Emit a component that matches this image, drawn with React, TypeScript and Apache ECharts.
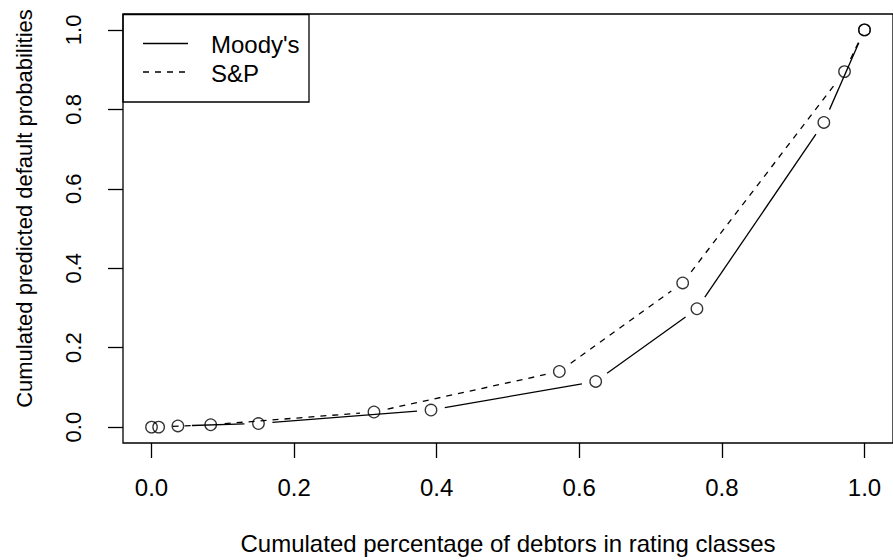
import React, { useEffect, useRef } from "react";
import * as echarts from "echarts";

// Tick values for both axes
const tickValues = [0, 0.2, 0.4, 0.6, 0.8, 1.0];

// Moody's (solid line)
const moodysX = [0, 0.037, 0.15, 0.392, 0.623, 0.765, 0.943, 1.0];
const moodysY = [0, 0.003, 0.009, 0.043, 0.115, 0.298, 0.767, 1.0];

// S&P (dashed line)
const spX = [0.01, 0.083, 0.312, 0.572, 0.745, 0.972, 1.0];
const spY = [0, 0.006, 0.038, 0.14, 0.363, 0.895, 1.0];

const seriesNames = ["Moody's", "S&P"];
const xTitle = "Cumulated percentage of debtors in rating classes";
const yTitle = "Cumulated predicted default probabilities";

const FONT = "'Liberation Sans', Arial, Helvetica, sans-serif";
const GAP = 14;
const LW = 1.3;

function toSegments(xs: number[], ys: number[]) {
  const out: number[][] = [];
  for (let i = 0; i < xs.length - 1; i++) {
    out.push([xs[i], ys[i], xs[i + 1], ys[i + 1]]);
  }
  return out;
}

function toPoints(xs: number[], ys: number[]) {
  return xs.map((x, i) => [x, ys[i]]);
}

function gappedLine(dash: number[] | null) {
  return (params: any, api: any) => {
    const p1 = api.coord([api.value(0), api.value(1)]);
    const p2 = api.coord([api.value(2), api.value(3)]);
    const dx = p2[0] - p1[0];
    const dy = p2[1] - p1[1];
    const d = Math.hypot(dx, dy);
    if (d <= 2 * GAP) return { type: "group", children: [] };
    const ux = dx / d;
    const uy = dy / d;
    return {
      type: "line",
      shape: {
        x1: p1[0] + ux * GAP,
        y1: p1[1] + uy * GAP,
        x2: p2[0] - ux * GAP,
        y2: p2[1] - uy * GAP,
      },
      style: {
        stroke: "#000",
        lineWidth: LW,
        lineDash: dash || undefined,
        fill: null,
      },
    };
  };
}

export default function App() {
  const ref = useRef<HTMLDivElement>(null);

  useEffect(() => {
    if (!ref.current) return;
    const chart = echarts.init(ref.current, null, { renderer: "svg" });

    const pointStyle = {
      color: "rgba(255,255,255,0)",
      borderColor: "#000",
      borderWidth: LW,
    };

    chart.setOption({
      animation: false,
      backgroundColor: "#fff",
      textStyle: { fontFamily: FONT, color: "#000" },
      grid: {
        left: 123,
        top: 14,
        width: 777.6,
        height: 431,
        show: true,
        borderColor: "#000",
        borderWidth: LW,
        backgroundColor: "rgba(0,0,0,0)",
      },
      xAxis: {
        type: "value",
        min: -0.04,
        max: 1.04,
        axisLine: { show: false, onZero: false },
        splitLine: { show: false },
        axisTick: {
          show: true,
          inside: false,
          length: 15,
          customValues: tickValues,
          lineStyle: { color: "#000", width: LW },
        },
        axisLabel: {
          customValues: tickValues,
          margin: 32,
          fontSize: 24,
          fontFamily: FONT,
          color: "#000",
          formatter: (v: number) => v.toFixed(1),
        },
        name: xTitle,
        nameLocation: "middle",
        nameGap: 88,
        nameTextStyle: { fontSize: 24, fontFamily: FONT, color: "#000" },
      },
      yAxis: {
        type: "value",
        min: -0.04,
        max: 1.04,
        axisLine: { show: false, onZero: false },
        splitLine: { show: false },
        axisTick: {
          show: true,
          inside: false,
          length: 15,
          customValues: tickValues,
          lineStyle: { color: "#000", width: LW },
        },
        axisLabel: {
          customValues: tickValues,
          rotate: 90,
          margin: 39,
          fontSize: 22,
          fontFamily: FONT,
          color: "#000",
          formatter: (v: number) => v.toFixed(1),
        },
        name: yTitle,
        nameLocation: "middle",
        nameGap: 88,
        nameTextStyle: {
          fontSize: 22,
          fontFamily: FONT,
          color: "#000",
          padding: [0, 0, 0, 40],
        },
      },
      graphic: [
        {
          type: "rect",
          shape: { x: 123, y: 14.5, width: 186, height: 87.5 },
          style: { fill: "none", stroke: "#000", lineWidth: LW },
          z: 10,
        },
        {
          type: "line",
          shape: { x1: 143, y1: 43.5, x2: 188, y2: 43.5 },
          style: { stroke: "#000", lineWidth: LW },
          z: 10,
        },
        {
          type: "line",
          shape: { x1: 143, y1: 72, x2: 188, y2: 72 },
          style: { stroke: "#000", lineWidth: LW, lineDash: [6, 6] },
          z: 10,
        },
        {
          type: "text",
          x: 211,
          y: 44,
          style: {
            text: seriesNames[0],
            fontSize: 24,
            fontFamily: FONT,
            fill: "#000",
            verticalAlign: "middle",
            align: "left",
          },
          z: 10,
        },
        {
          type: "text",
          x: 211,
          y: 73,
          style: {
            text: seriesNames[1],
            fontSize: 24,
            fontFamily: FONT,
            fill: "#000",
            verticalAlign: "middle",
            align: "left",
          },
          z: 10,
        },
      ],
      series: [
        {
          name: seriesNames[0] + " line",
          type: "custom",
          data: toSegments(moodysX, moodysY),
          encode: { x: [0, 2], y: [1, 3] },
          renderItem: gappedLine(null),
          silent: true,
          z: 2,
        },
        {
          name: seriesNames[1] + " line",
          type: "custom",
          data: toSegments(spX, spY),
          encode: { x: [0, 2], y: [1, 3] },
          renderItem: gappedLine([6, 6]),
          silent: true,
          z: 2,
        },
        {
          name: seriesNames[0],
          type: "scatter",
          data: toPoints(moodysX, moodysY),
          symbol: "circle",
          symbolSize: 11.5,
          itemStyle: pointStyle,
          silent: true,
          z: 3,
        },
        {
          name: seriesNames[1],
          type: "scatter",
          data: toPoints(spX, spY),
          symbol: "circle",
          symbolSize: 11.5,
          itemStyle: pointStyle,
          silent: true,
          z: 3,
        },
      ],
    });

    return () => chart.dispose();
  }, []);

  return (
    <div
      ref={ref}
      style={{ position: "fixed", left: 0, top: 0, width: 893, height: 560 }}
    />
  );
}
